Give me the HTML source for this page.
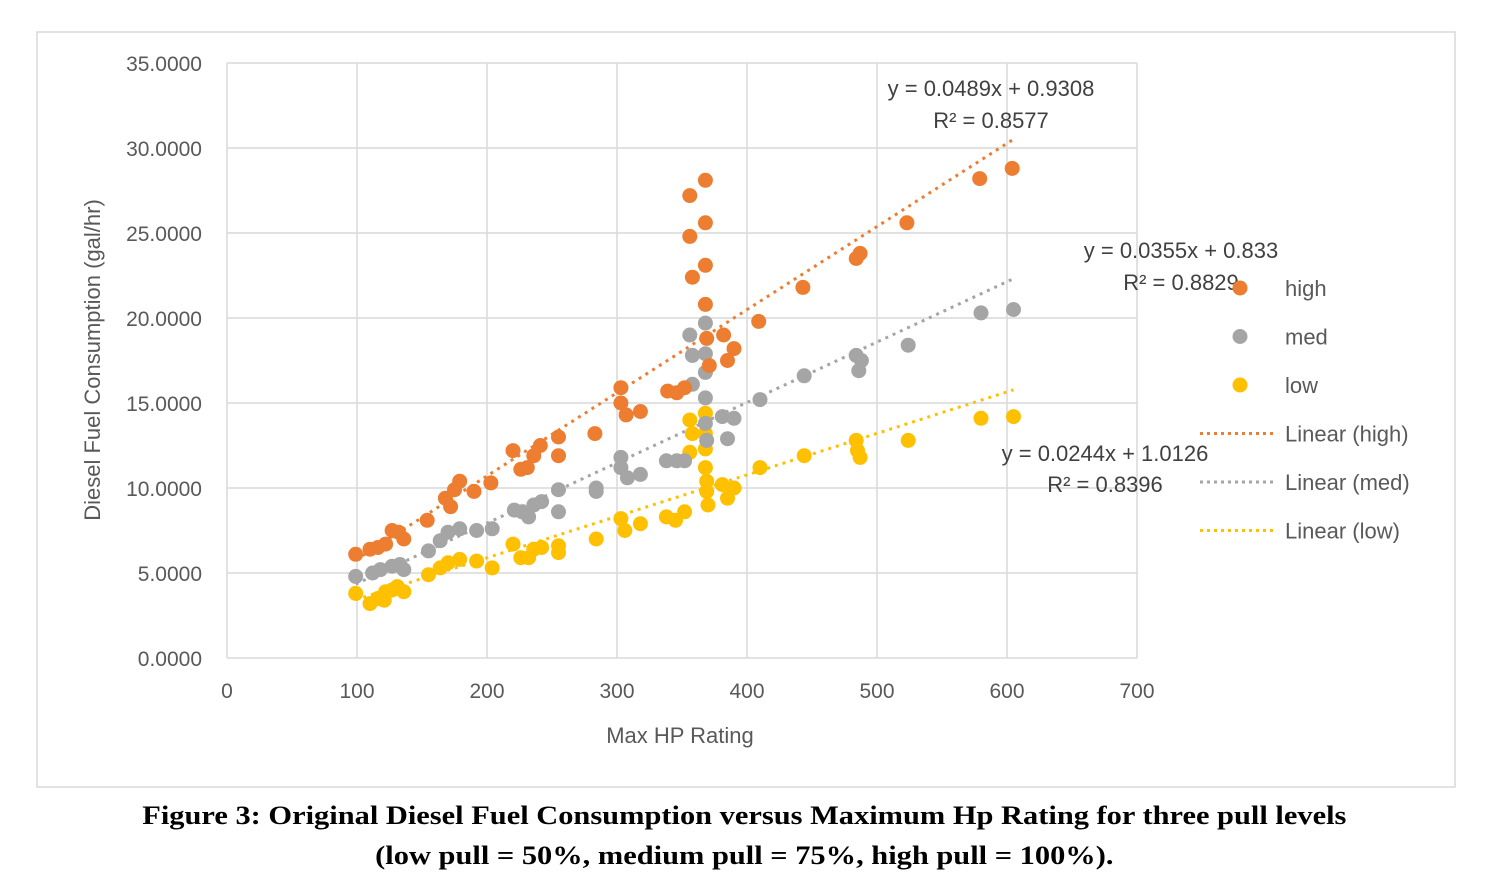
<!DOCTYPE html>
<html><head><meta charset="utf-8"><style>
body{margin:0;background:#fff;width:1490px;height:890px;overflow:hidden}
svg text{font-family:"Liberation Sans",sans-serif}
.cap{position:absolute;left:0;width:1490px;text-align:center;font-family:"Liberation Serif",serif;font-weight:bold;font-size:26px;color:#000;transform:scaleX(1.17);transform-origin:749px 0}
</style></head><body>
<svg id="chart" width="1490" height="890" style="position:absolute;left:0;top:0">
<rect x="37" y="32" width="1418" height="755" fill="none" stroke="#d9d9d9" stroke-width="1.5"/>
<g id="grid"></g><g id="trend"></g><g id="pts"></g><g id="axes"></g>
<text transform="translate(100,360) rotate(-90)" text-anchor="middle" font-size="22" fill="#595959">Diesel Fuel Consumption (gal/hr)</text>
<text x="680" y="743" text-anchor="middle" font-size="22" fill="#595959">Max HP Rating</text>
<g font-size="22" fill="#404040"><text x="991" y="96" text-anchor="middle">y = 0.0489x + 0.9308</text><text x="991" y="128" text-anchor="middle">R² = 0.8577</text></g>
<g font-size="22" fill="#404040"><text x="1181" y="258" text-anchor="middle">y = 0.0355x + 0.833</text><text x="1181" y="290" text-anchor="middle">R² = 0.8829</text></g>
<g font-size="22" fill="#404040"><text x="1105" y="461" text-anchor="middle">y = 0.0244x + 1.0126</text><text x="1105" y="492" text-anchor="middle">R² = 0.8396</text></g>
<g id="legend" font-size="22" fill="#595959"></g>
</svg>
<div class="cap" style="top:801px">Figure 3: Original Diesel Fuel Consumption versus Maximum Hp Rating for three pull levels</div>
<div class="cap" style="top:841px">(low pull = 50%, medium pull = 75%, high pull = 100%).</div>
<script>
const xTicks=[0,100,200,300,400,500,600,700];
const yTicks=[0,5,10,15,20,25,30,35];
const highX=[99,110,116,122,127,132,136,154,168,172,175,179,190,203,220,226,231,236,241,255,255,283,303,303,307,318,339,346,352,356,356,358,368,368,368,368,369,371,382,385,390,409,443,484,487,523,579,604];
const highY=[6.1,6.4,6.5,6.7,7.5,7.4,7.0,8.1,9.4,8.9,9.9,10.4,9.8,10.3,12.2,11.1,11.2,11.9,12.5,13.0,11.9,13.2,15.9,15.0,14.3,14.5,15.7,15.6,15.9,27.2,24.8,22.4,28.1,25.6,23.1,20.8,18.8,17.2,19.0,17.5,18.2,19.8,21.8,23.5,23.8,25.6,28.2,28.8];
const medX=[99,112,118,127,133,136,155,164,170,179,192,204,221,227,232,236,242,255,255,284,284,303,303,308,318,338,346,352,356,358,358,368,368,368,368,368,369,381,385,390,410,444,484,486,488,524,580,605];
const medY=[4.8,5.0,5.2,5.4,5.5,5.2,6.3,6.9,7.4,7.6,7.5,7.6,8.7,8.6,8.3,9.0,9.2,9.9,8.6,10.0,9.8,11.8,11.2,10.6,10.8,11.6,11.6,11.6,19.0,17.8,16.1,19.7,17.9,16.8,15.3,13.8,12.8,14.2,12.9,14.1,15.2,16.6,17.8,16.9,17.5,18.4,20.3,20.5];
const lowX=[99,110,116,121,122,127,131,136,155,164,170,179,192,204,220,226,232,236,242,255,255,284,303,306,318,338,345,352,356,358,356,368,368,368,368,369,369,370,381,385,390,410,444,484,485,487,524,580,605];
const lowY=[3.8,3.2,3.5,3.4,3.9,4.0,4.2,3.9,4.9,5.3,5.6,5.8,5.7,5.3,6.7,5.9,5.9,6.4,6.5,6.6,6.2,7.0,8.2,7.5,7.9,8.3,8.1,8.6,14.0,13.2,12.1,14.4,13.2,12.3,11.2,10.4,9.8,9.0,10.2,9.4,10.0,11.2,11.9,12.8,12.2,11.8,12.8,14.1,14.2];
const trends=[{n:'high',m:0.0489,b:0.9308,c:'#ed7d31'},{n:'med',m:0.0355,b:0.833,c:'#a5a5a5'},{n:'low',m:0.0244,b:1.0126,c:'#ffc000'}];
const NS='http://www.w3.org/2000/svg';
const X=v=>227+v*1.3, Y=v=>658-v*17;
function mk(t,a,p){const e=document.createElementNS(NS,t);for(const k in a)e.setAttribute(k,a[k]);document.getElementById(p).appendChild(e);return e;}
xTicks.forEach(t=>{
 const l=mk('line',{x1:X(t),x2:X(t),y1:Y(35),y2:Y(0),stroke:'#d9d9d9','stroke-width':1.5},'grid');
 
 
 const tx=mk('text',{x:X(t),y:698,'text-anchor':'middle','font-size':21,fill:'#595959'},'axes');tx.textContent=t;
 
 
});
yTicks.forEach(t=>{
 const l=mk('line',{x1:X(0),x2:X(700),y1:Y(t),y2:Y(t),stroke:'#d9d9d9','stroke-width':1.5},'grid');
 
 
 const tx=mk('text',{x:202,y:Y(t)+8,'text-anchor':'end','font-size':21,fill:'#595959'},'axes');tx.textContent=t.toFixed(4);
 
 
});
trends.forEach(s=>{
 const l=mk('line',{x1:X(99),y1:Y(s.m*99+s.b),x2:X(605),y2:Y(s.m*605+s.b),stroke:s.c,'stroke-width':3,'stroke-dasharray':'3,5'},'trend');
 
 
});
[[lowX,lowY,'#ffc000','low'],[medX,medY,'#a5a5a5','med'],[highX,highY,'#ed7d31','high']].forEach(([xs,ys,c,n])=>{
 xs.forEach((x,i)=>{const p=mk('circle',{cx:X(x),cy:Y(ys[i]),r:7.5,fill:c},'pts');
 
 });
});
const leg=[['high','#ed7d31',0],['med','#a5a5a5',0],['low','#ffc000',0],['Linear (high)','#ed7d31',1],['Linear (med)','#a5a5a5',1],['Linear (low)','#ffc000',1]];
leg.forEach(([t,c,ln],i)=>{const y=288+i*48.5;
 if(ln){const l=mk('line',{x1:1200,x2:1275,y1:y,y2:y,stroke:c,'stroke-width':3,'stroke-dasharray':'3,4'},'legend');
  
  }
 else{const m=mk('circle',{cx:1240,cy:y,r:7.5,fill:c},'legend');
  
  }
 const tx=mk('text',{x:1285,y:y+8,'font-size':22,fill:'#595959'},'legend');tx.textContent=t;
 
 
});
</script>
</body></html>
